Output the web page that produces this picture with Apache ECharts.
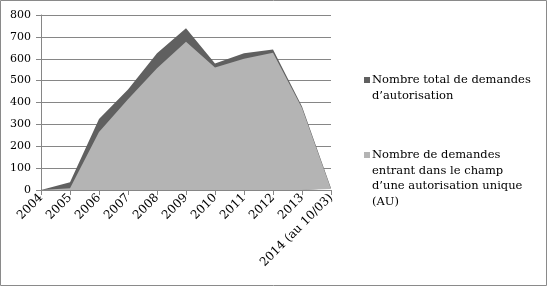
<!DOCTYPE html>
<html><head><meta charset="utf-8">
<script src="https://cdn.jsdelivr.net/npm/echarts@6/dist/echarts.min.js"></script>
<style>html,body{margin:0;padding:0;background:#fff}#c{width:549px;height:288px}</style>
</head><body><div id="c"></div>
<script>
const categories = ['2004','2005','2006','2007','2008','2009','2010','2011','2012','2013','2014 (au 10/03)'];
const totalValues = [0, 35, 325, 460, 625, 740, 578, 625, 642, 382, 8];
const auValues = [0, 8, 265, 415, 557, 678, 560, 600, 628, 375, 5];
const seriesNames = ['Nombre total de demandes\nd\u2019autorisation', 'Nombre de demandes\nentrant dans le champ\nd\u2019une autorisation unique\n(AU)'];
const yTicks = [0,100,200,300,400,500,600,700,800];
const colors = ['#606060', '#b4b4b4'];
const font = 'DejaVu Serif';

const chart = echarts.init(document.getElementById('c'));
const legendTops = [72, 147];
const graphic = [{type:'rect', shape:{x:0.5,y:0.5,width:546,height:285}, style:{fill:'none', stroke:'#8a8a8a', lineWidth:1}}];
seriesNames.forEach((n,i)=>{
  graphic.push({type:'rect', shape:{x:364,y:legendTops[i]+5,width:6,height:6}, style:{fill:colors[i]}});
  graphic.push({type:'text', left:372, top:legendTops[i], style:{text:n, font:'11.5px "'+font+'"', fill:'#000', lineHeight:15.7}});
});
chart.setOption({
  animation:false,
  grid:{left:41,right:218,top:15,bottom:98},
  xAxis:{type:'category', data:categories, boundaryGap:false,
    axisLine:{lineStyle:{color:'#868686'}},
    axisTick:{alignWithLabel:true, length:5, lineStyle:{color:'#868686'}},
    axisLabel:{rotate:45, interval:0, fontFamily:font, fontSize:12, color:'#000', margin:6}},
  yAxis:{type:'value', min:0, max:800, interval:100,
    axisLine:{show:true, lineStyle:{color:'#868686'}},
    axisTick:{show:true, length:5, lineStyle:{color:'#868686'}},
    splitLine:{lineStyle:{color:'#868686'}},
    axisLabel:{fontFamily:font, fontSize:11, color:'#000', margin:10,
      formatter:v=>yTicks.includes(v)?String(v):''}},
  series:[
    {name:seriesNames[0], type:'line', data:totalValues, symbol:'none', lineStyle:{width:0}, areaStyle:{color:colors[0], opacity:1}, z:2},
    {name:seriesNames[1], type:'line', data:auValues, symbol:'none', lineStyle:{width:0}, areaStyle:{color:colors[1], opacity:1}, z:3}
  ],
  graphic:graphic
});
</script></body></html>
